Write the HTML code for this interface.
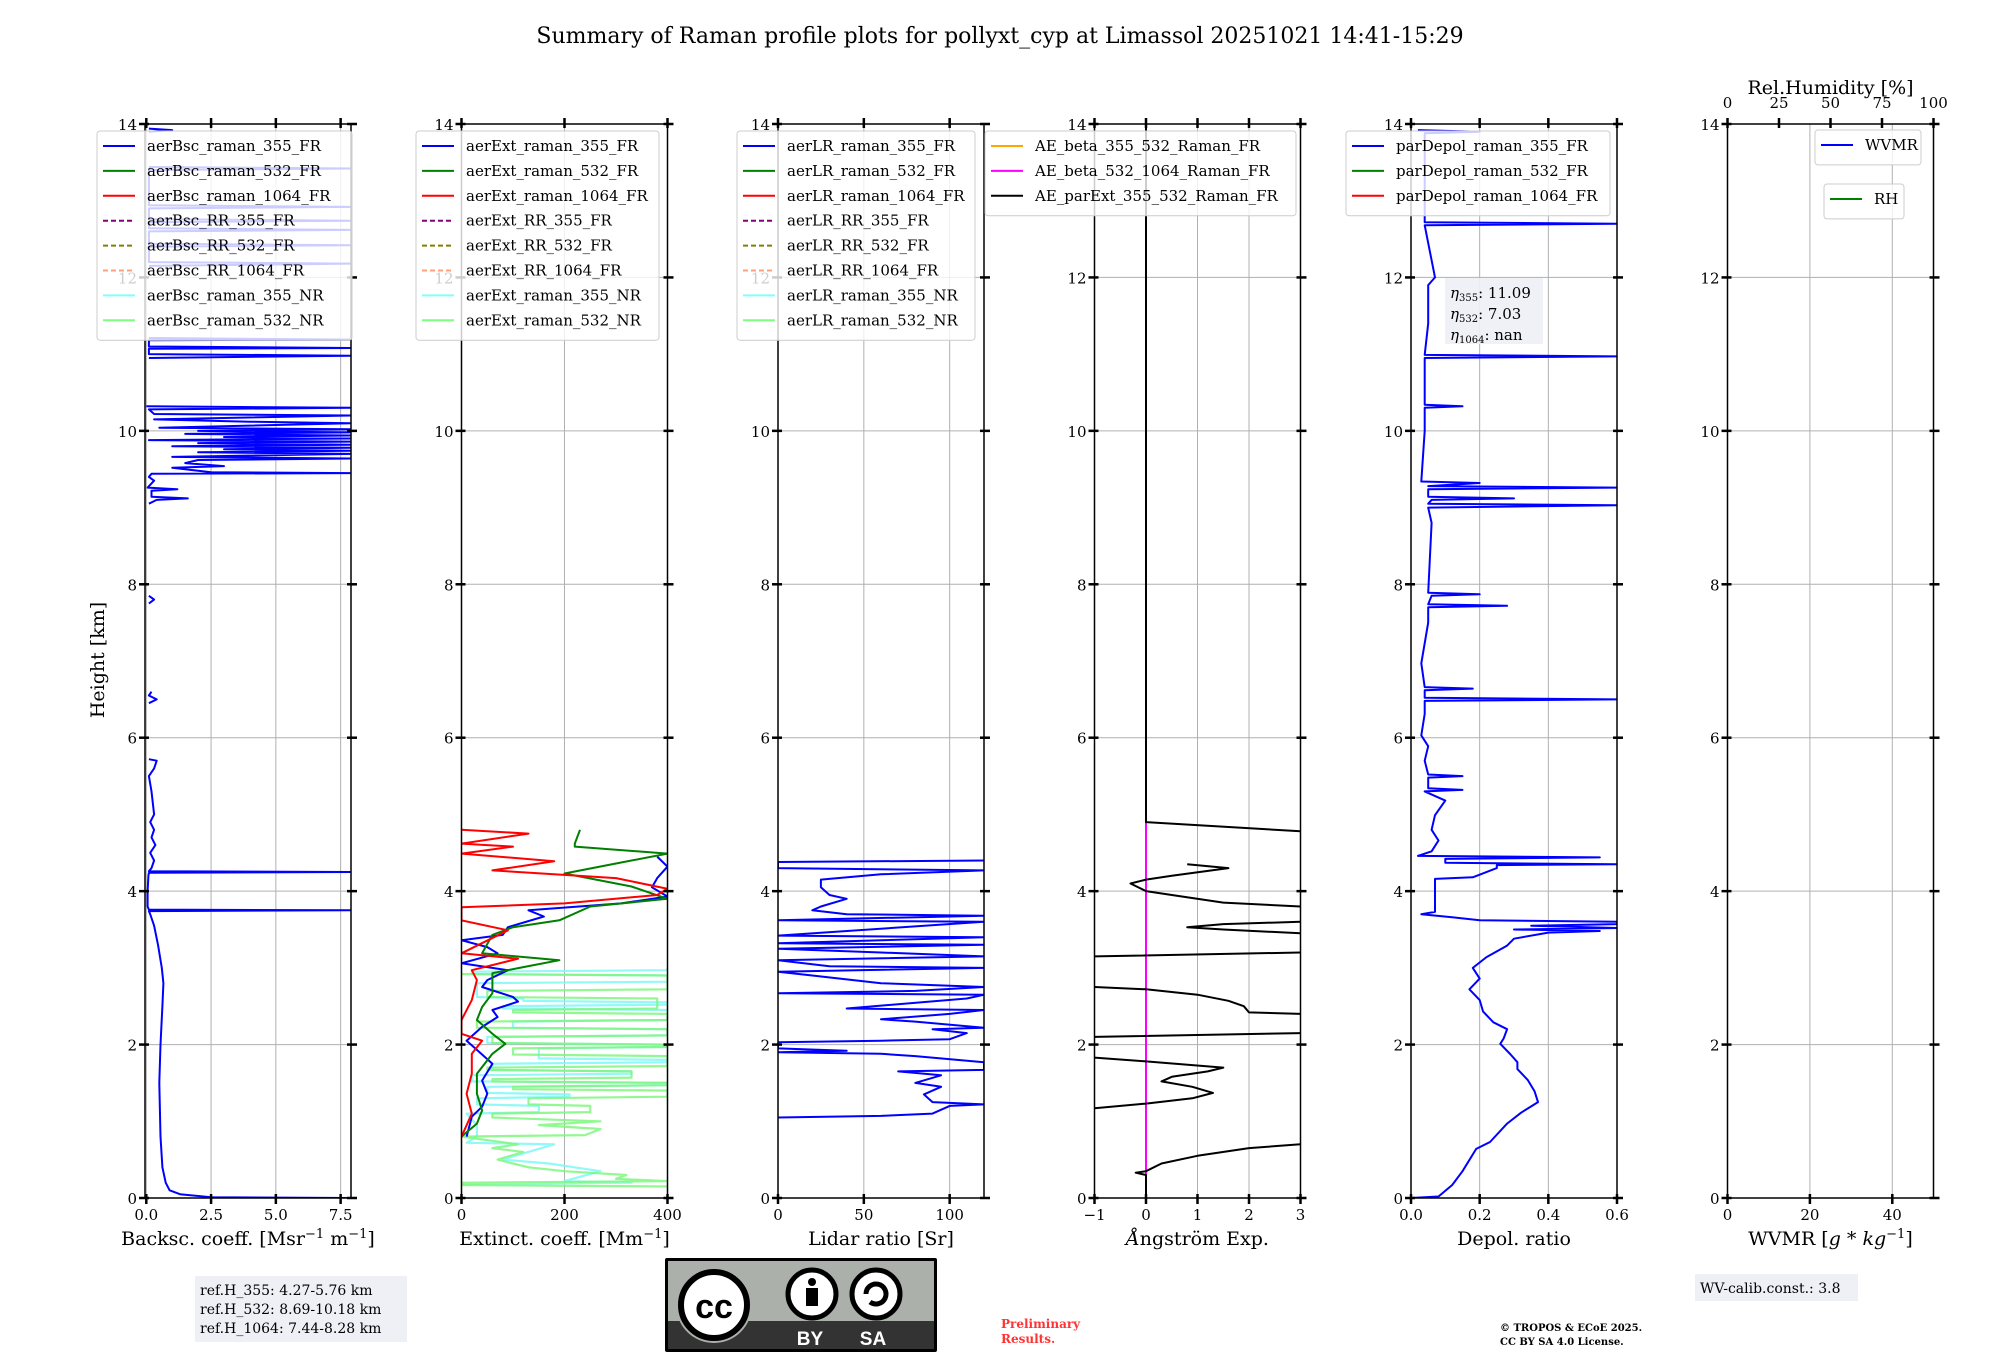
<!DOCTYPE html>
<html><head><meta charset="utf-8"><title>Raman profile summary</title>
<style>
html,body{margin:0;padding:0;background:#fff;}
svg{display:block;font-family:"DejaVu Serif","Liberation Serif",serif;}
</style></head>
<body>
<svg id="fig" width="2000" height="1360" viewBox="0 0 2000 1360" xmlns="http://www.w3.org/2000/svg">
<text x="1000" y="43" text-anchor="middle" font-size="22">Summary of Raman profile plots for pollyxt_cyp at Limassol 20251021 14:41-15:29</text>
<text transform="translate(104,660) rotate(-90)" text-anchor="middle" font-size="19">Height [km]</text>
<g id="panels"></g>
<g>
<rect x="195" y="1276" width="212" height="66" fill="#eef0f5"/>
<text x="200" y="1295" font-size="14">ref.H_355: 4.27-5.76 km</text>
<text x="200" y="1314" font-size="14">ref.H_532: 8.69-10.18 km</text>
<text x="200" y="1333" font-size="14">ref.H_1064: 7.44-8.28 km</text>
</g>
<g>
<rect x="1695" y="1274" width="163" height="27" fill="#eef0f5"/>
<text x="1700" y="1293" font-size="14">WV-calib.const.: 3.8</text>
</g>
<g>
<rect x="665" y="1258" width="272" height="94" fill="#000" rx="2"/>
<rect x="668" y="1261" width="266" height="60" fill="#abb1aa"/>
<rect x="668" y="1321" width="266" height="28" fill="#333"/>
<circle cx="714" cy="1305" r="38" fill="#abb1aa"/>
<circle cx="714" cy="1305" r="33" fill="#fff" stroke="#000" stroke-width="6"/>
<text x="714" y="1318" font-family="Liberation Sans,sans-serif" font-weight="bold" font-size="34" text-anchor="middle">cc</text>
<circle cx="812" cy="1294" r="24" fill="#fff" stroke="#000" stroke-width="5"/>
<circle cx="812" cy="1282" r="4" fill="#000"/>
<rect x="806" y="1288" width="12" height="18" fill="#000"/>
<circle cx="876" cy="1294" r="24" fill="#fff" stroke="#000" stroke-width="5"/>
<path d="M866 1294 a10 10 0 1 1 4 8" fill="none" stroke="#000" stroke-width="5"/>
<text x="810" y="1345" font-family="Liberation Sans,sans-serif" font-weight="bold" font-size="19" fill="#fff" text-anchor="middle">BY</text>
<text x="873" y="1345" font-family="Liberation Sans,sans-serif" font-weight="bold" font-size="19" fill="#fff" text-anchor="middle">SA</text>
</g>
<text x="1001" y="1328" font-size="12" font-weight="bold" fill="#ff3333">Preliminary</text>
<text x="1001" y="1343" font-size="12" font-weight="bold" fill="#ff3333">Results.</text>
<text x="1500" y="1331" font-size="10" font-weight="bold">© TROPOS &amp; ECoE 2025.</text>
<text x="1500" y="1345" font-size="10" font-weight="bold">CC BY SA 4.0 License.</text>
</svg>
<script>
// ---------- data: [height km, value] ----------
const yTicks = [0,2,4,6,8,10,12,14];
const bscProfile = [[0,7.9],[0.01,2.5],[0.05,1.3],[0.1,0.9],[0.2,0.75],[0.4,0.62],[0.8,0.55],[1.5,0.5],[2.0,0.55],[2.5,0.62],[2.8,0.66],[3.0,0.6],[3.3,0.45],[3.55,0.3],[3.7,0.15],[3.74,0.1],[3.75,7.9],[3.76,0.1],[3.8,0.05],[4.0,0.05],[4.2,0.08],[4.24,0.1],[4.25,7.9],[4.26,0.1],[4.3,0.2],[4.4,0.3],[4.5,0.15],[4.6,0.35],[4.7,0.2],[4.8,0.3],[4.9,0.15],[5.0,0.3],[5.3,0.2],[5.5,0.1],[5.6,0.3],[5.7,0.4],[5.72,0.1],null,[6.45,0.1],[6.5,0.4],[6.55,0.1],[6.6,0.2],null,[7.75,0.1],[7.8,0.3],[7.85,0.1],null,
[9.05,0.1],[9.1,0.4],[9.12,1.6],[9.14,0.2],[9.22,0.2],[9.24,1.2],[9.26,0.05],[9.35,0.3],[9.4,0.1],[9.44,0.2],[9.45,7.9],[9.46,2.5],[9.52,1.0],[9.54,3.0],[9.58,1.5],[9.62,2.0],[9.64,7.9],[9.66,1.0],[9.7,7.9],[9.72,2.0],[9.74,7.9],[9.76,3.0],[9.78,7.9],[9.8,1.0],[9.82,7.9],[9.84,2.0],[9.86,7.9],[9.88,0.1],[9.9,7.9],[9.92,3.0],[9.94,7.9],[9.96,1.5],[9.98,7.9],[10.0,2.0],[10.02,7.9],[10.04,0.5],[10.1,7.9],[10.12,4.0],[10.15,0.3],[10.2,7.9],[10.22,0.3],[10.28,0.1],[10.3,7.9],[10.32,0.0],null,
[10.95,0.1],[10.98,7.9],[11.0,0.1],[11.07,0.1],[11.08,7.9],[11.1,0.1],[11.18,0.1],[11.19,7.9],[11.21,0.1],null,[12.15,0.1],[12.18,7.9],[12.2,0.1],[12.4,0.1],[12.42,7.9],[12.44,0.1],[12.6,0.1],[12.62,7.9],[12.64,0.1],[12.72,0.1],[12.74,7.9],[12.76,0.1],[12.9,0.1],[12.92,7.9],[12.94,0.1],[13.4,0.1],[13.42,7.9],[13.44,0.1],null,[13.9,0.1],[13.92,1.0],[13.94,0.1]];
const ext355Profile = [[0.8,10],[1.06,20],[1.19,40],[1.36,50],[1.53,40],[1.75,60],[1.93,30],[2.05,10],[2.23,40],[2.36,70],[2.45,60],[2.56,110],[2.62,100],[2.75,40],[2.84,50],[2.97,90],[3.06,0],[3.19,70],[3.27,50],[3.36,0],[3.43,80],[3.53,90],[3.67,160],[3.75,130],[3.84,310],[3.93,400],[4.05,370],[4.17,380],[4.32,400],[4.45,380]];
const ext532Profile = [[0.8,0],[0.97,30],[1.14,40],[1.36,30],[1.62,30],[1.88,60],[2.01,85],[2.14,60],[2.32,30],[2.49,40],[2.67,60],[2.84,60],[2.93,60],[3.01,120],[3.1,190],[3.19,40],[3.43,60],[3.53,100],[3.62,190],[3.8,250],[3.9,400],[4.06,330],[4.23,200],[4.36,300],[4.49,400],[4.58,220],[4.62,220],[4.8,230]];
const ext1064Profile = [[0.8,0],[1.1,20],[1.36,10],[1.62,20],[1.88,20],[2.05,40],[2.14,0],[2.32,0],[2.58,20],[2.84,30],[2.97,20],[3.12,110],[3.19,0],[3.49,90],[3.62,0],[3.79,0],[3.84,200],[3.95,380],[4.03,400],[4.17,300],[4.27,60],[4.39,180],[4.49,0],[4.58,100],[4.62,0],[4.75,130],[4.8,0]];
const extNR355Profile = [[0.18,0],[0.2,330],[0.22,200],[0.35,270],[0.45,170],[0.5,80],[0.7,180],[0.72,10],[0.8,30],[0.95,30],[1.1,10],[1.12,150],[1.2,150],[1.22,30],[1.3,30],[1.32,210],[1.35,210],[1.37,50],[1.45,50],[1.47,400],[1.5,400],[1.52,20],[1.6,20],[1.62,330],[1.65,330],[1.67,60],[1.75,60],[1.77,400],[1.8,400],[1.82,150],[1.95,150],[1.97,400],[2.0,400],[2.02,50],[2.1,50],[2.12,400],[2.2,400],[2.22,100],[2.3,100],[2.32,400],[2.45,400],[2.47,80],[2.5,80],[2.52,400],[2.55,400],[2.57,120],[2.6,120],[2.62,30],[2.8,30],[2.82,400],[2.9,400],[2.92,20],[2.95,20],[2.97,400],[3.0,400]];
const extNR532Profile = [[0.15,400],[0.17,0],[0.2,0],[0.22,400],[0.25,300],[0.3,320],[0.35,200],[0.4,130],[0.45,100],[0.5,70],[0.6,120],[0.65,60],[0.7,110],[0.8,0],[0.82,240],[0.9,270],[0.95,150],[1.0,270],[1.05,60],[1.1,60],[1.12,250],[1.2,250],[1.22,130],[1.3,130],[1.32,400],[1.4,400],[1.42,100],[1.45,100],[1.47,400],[1.5,400],[1.52,60],[1.55,60],[1.57,330],[1.65,330],[1.67,50],[1.7,50],[1.72,400],[1.85,400],[1.87,100],[1.95,100],[1.97,400],[2.0,400],[2.02,60],[2.1,60],[2.12,400],[2.2,400],[2.22,30],[2.3,30],[2.32,400],[2.4,400],[2.42,100],[2.45,100],[2.47,380],[2.6,380],[2.62,50],[2.7,50],[2.72,400],[2.9,400],[2.92,0]];
const lrProfile = [[1.05,0],[1.07,60],[1.1,90],[1.2,100],[1.22,120],[1.25,90],[1.35,85],[1.45,95],[1.5,80],[1.6,95],[1.65,70],[1.67,120],[1.77,120],[1.85,80],[1.88,60],[1.9,0],[1.92,40],[1.95,0],[2.03,0],[2.05,60],[2.07,100],[2.15,110],[2.2,90],[2.22,120],[2.3,80],[2.33,60],[2.4,100],[2.45,120],[2.47,40],[2.6,110],[2.65,120],[2.67,0],[2.7,80],[2.75,120],[2.8,60],[2.9,20],[2.95,0],[3.0,120],[3.02,30],[3.1,0],[3.15,120],[3.2,60],[3.25,0],[3.3,120],[3.32,0],[3.4,120],[3.42,0],[3.6,120],[3.62,0],[3.68,120],[3.7,40],[3.75,20],[3.8,25],[3.9,40],[3.95,30],[4.05,25],[4.15,25],[4.22,60],[4.27,120],[4.3,0],[4.38,0],[4.4,120]];
const aeParProfile = [[0,0],[0.3,0],[0.33,-0.2],[0.35,0],[0.45,0.3],[0.55,1],[0.65,2],[0.7,3],null,[1.17,-1],[1.23,0],[1.3,0.9],[1.37,1.3],[1.45,0.9],[1.52,0.3],[1.58,0.5],[1.65,1.2],[1.7,1.5],[1.78,0],[1.83,-1],null,[2.1,-1],[2.15,3],null,[2.4,3],[2.42,2],[2.5,1.9],[2.57,1.6],[2.65,1],[2.72,0],[2.75,-1],null,[3.15,-1],[3.2,3],null,[3.45,3],[3.5,1.5],[3.53,0.8],[3.57,1.5],[3.6,3],null,[3.8,3],[3.85,1.5],[3.95,0.5],[4.0,0],[4.1,-0.3],[4.15,0],[4.2,0.5],[4.3,1.6],[4.35,0.8],null,[4.78,3],[4.9,0],[14,0]];
const aeBetaProfile = [[0,0],[4.9,0]];
const dpProfile = [[0,0],[0.02,0.08],[0.17,0.12],[0.35,0.15],[0.64,0.19],[0.73,0.23],[0.97,0.28],[1.11,0.32],[1.25,0.37],[1.39,0.36],[1.54,0.34],[1.68,0.31],[1.77,0.31],[1.87,0.29],[2.01,0.26],[2.08,0.27],[2.2,0.28],[2.29,0.24],[2.43,0.21],[2.58,0.2],[2.72,0.17],[2.86,0.2],[3.0,0.18],[3.14,0.22],[3.29,0.28],[3.38,0.3],[3.46,0.4],[3.48,0.55],[3.5,0.3],[3.52,0.6],[3.55,0.35],[3.57,0.6],[3.6,0.6],[3.62,0.2],[3.66,0.12],[3.7,0.03],[3.73,0.07],[4.16,0.07],[4.18,0.18],[4.3,0.25],[4.34,0.25],[4.35,0.6],[4.37,0.1],[4.42,0.1],[4.44,0.55],[4.46,0.02],[4.52,0.06],[4.66,0.08],[4.8,0.06],[4.99,0.07],[5.18,0.1],[5.3,0.04],[5.32,0.15],[5.34,0.05],[5.48,0.05],[5.5,0.15],[5.52,0.05],[5.7,0.04],[5.89,0.05],[6.03,0.03],[6.31,0.04],[6.48,0.04],[6.5,0.6],[6.52,0.04],[6.62,0.04],[6.64,0.18],[6.66,0.04],[6.97,0.03],[7.5,0.05],[7.7,0.05],[7.72,0.28],[7.74,0.05],[7.85,0.06],[7.87,0.2],[7.89,0.05],[8.8,0.06],[9.0,0.05],[9.03,0.6],[9.05,0.05],[9.1,0.06],[9.12,0.3],[9.14,0.05],[9.24,0.05],[9.26,0.6],[9.28,0.05],[9.32,0.2],[9.34,0.03],[10.0,0.04],[10.3,0.04],[10.32,0.15],[10.34,0.04],[10.95,0.04],[10.97,0.6],[10.99,0.04],[11.4,0.05],[11.9,0.05],[12.0,0.07],[12.68,0.04],[12.7,0.6],[12.72,0.04],[13.88,0.04],[13.9,0.2],[13.92,0.02]];

const panels = [
 {name:'backscatter', xmin:-0.05, xmax:7.9, ticks:[0,2.5,5,7.5], tl:['0.0','2.5','5.0','7.5'], label:'Backsc. coeff. [Msr<tspan baseline-shift="super" font-size="13">−1</tspan> m<tspan baseline-shift="super" font-size="13">−1</tspan>]'},
 {name:'extinction', xmin:0, xmax:400, ticks:[0,200,400], tl:['0','200','400'], label:'Extinct. coeff. [Mm<tspan baseline-shift="super" font-size="13">−1</tspan>]'},
 {name:'lidar-ratio', xmin:0, xmax:120, ticks:[0,50,100], tl:['0','50','100'], label:'Lidar ratio [Sr]'},
 {name:'angstrom', xmin:-1, xmax:3, ticks:[-1,0,1,2,3], tl:['−1','0','1','2','3'], label:'<tspan font-style="italic">Å</tspan>ngström Exp.'},
 {name:'depol', xmin:0, xmax:0.6, ticks:[0,0.2,0.4,0.6], tl:['0.0','0.2','0.4','0.6'], label:'Depol. ratio'},
 {name:'wvmr', xmin:0, xmax:50, ticks:[0,20,40], tl:['0','20','40'], label:'WVMR [<tspan font-style="italic">g</tspan> * <tspan font-style="italic">kg</tspan><tspan baseline-shift="super" font-size="13">−1</tspan>]'}
];
const rhTicks = [0,25,50,75,100];

const TOP=124, BOT=1198, PW=206;
function left(i){return 145 + i*316.5;}
function yS(h){return BOT - h/14*(BOT-TOP);}
function xS(i,v){const p=panels[i];return left(i)+(v-p.xmin)/(p.xmax-p.xmin)*PW;}

const NS='http://www.w3.org/2000/svg';
const root=document.getElementById('panels');
function el(tag,attrs,parent){const e=document.createElementNS(NS,tag);for(const k in attrs)e.setAttribute(k,attrs[k]);(parent||root).appendChild(e);return e;}

function pathFrom(i,P){
  let d='',pen=false;
  P.forEach(pt=>{
    if(pt===null){pen=false;return;}
    d+=(pen?'L':'M')+xS(i,pt[1]).toFixed(1)+' '+yS(pt[0]).toFixed(1);
    pen=true;
  });
  return d;
}

panels.forEach((p,i)=>{
  const L=left(i), R=L+PW;
  const g=el('g',{});
  
  
  const cp=el('clipPath',{id:'clip'+i},g);
  el('rect',{x:L,y:TOP,width:PW,height:BOT-TOP},cp);
  yTicks.forEach(t=>{
    const gl=el('line',{x1:L,x2:R,y1:yS(t),y2:yS(t),stroke:'#b0b0b0','stroke-width':1},g);
    
    
  });
  p.ticks.forEach(t=>{
    const gl=el('line',{x1:xS(i,t),x2:xS(i,t),y1:TOP,y2:BOT,stroke:'#b0b0b0','stroke-width':1},g);
    
    
  });
  const dg=el('g',{'clip-path':'url(#clip'+i+')'},g);
  function series(P,color,w,name,op){
    const pth=el('path',{d:pathFrom(i,P),fill:'none',stroke:color,'stroke-width':w,'stroke-linejoin':'round',opacity:op||1},dg);
    
    
  }
  if(i===0){ series(bscProfile,'#0000ff',2,'aerbsc-355-fr-line'); }
  if(i===1){
    series(extNR355Profile,'#7ff7f7',2.2,'aerext-355-nr-line',0.85);
    series(extNR532Profile,'#7ff77f',2.2,'aerext-532-nr-line',0.85);
    series(ext355Profile,'#0000ff',2,'aerext-355-fr-line');
    series(ext532Profile,'#007f00',2,'aerext-532-fr-line');
    series(ext1064Profile,'#ff0000',2,'aerext-1064-fr-line');
  }
  if(i===2){ series(lrProfile,'#0000ff',2,'aerlr-355-fr-line'); }
  if(i===3){
    series(aeBetaProfile,'#ff00ff',2,'ae-beta-532-1064-line');
    series(aeParProfile,'#000000',2,'ae-parext-355-532-line');
  }
  if(i===4){ series(dpProfile,'#0000ff',2,'pardepol-355-fr-line'); }
  const fr=el('rect',{x:L,y:TOP,width:PW,height:BOT-TOP,fill:'none',stroke:'#000','stroke-width':1.5},g);
  
  
  yTicks.forEach(t=>{
    const y=yS(t);
    el('line',{x1:L-6,x2:L+4,y1:y,y2:y,stroke:'#000','stroke-width':2.5},g);
    el('line',{x1:R-4,x2:R+6,y1:y,y2:y,stroke:'#000','stroke-width':2.5},g);
    const tx=el('text',{x:L-8,y:y+6,'text-anchor':'end','font-size':15},g);
    tx.textContent=String(t);
    
    
  });
  p.ticks.forEach((t,k)=>{
    const x=xS(i,t);
    el('line',{x1:x,x2:x,y1:BOT-4,y2:BOT+6,stroke:'#000','stroke-width':2.5},g);
    if(i!==5) el('line',{x1:x,x2:x,y1:TOP-6,y2:TOP+4,stroke:'#000','stroke-width':2.5},g);
    const tx=el('text',{x:x,y:BOT+22,'text-anchor':'middle','font-size':15},g);
    tx.textContent=p.tl[k];
    
    
  });
  const xl=el('text',{x:L+PW/2,y:BOT+47,'text-anchor':'middle','font-size':19},g);
  xl.innerHTML=p.label;
  
  
  if(i===5){
    rhTicks.forEach(t=>{
      const x=L+t/100*PW;
      el('line',{x1:x,x2:x,y1:TOP-6,y2:TOP+4,stroke:'#000','stroke-width':2.5},g);
      const tx=el('text',{x:x,y:TOP-16,'text-anchor':'middle','font-size':15},g);
      tx.textContent=String(t);
      
      
    });
    const rl=el('text',{x:L+PW/2,y:TOP-30,'text-anchor':'middle','font-size':19},g);
    rl.textContent='Rel.Humidity [%]';
    
    
  }
});

function legend(x,y,w,items,name,fs){
  const g=el('g',{});
  
  
  const h=items.length*24.9+10;
  el('rect',{x:x,y:y,width:w,height:h,rx:3,fill:'#fff','fill-opacity':0.8,stroke:'#cccccc','stroke-width':1},g);
  items.forEach((it,k)=>{
    const cy=y+15+k*24.9;
    const ln=el('line',{x1:x+6,x2:x+38,y1:cy,y2:cy,stroke:it[1],'stroke-width':2,'stroke-dasharray':it[2]?'5,3':'none'},g);
    
    
    const t=el('text',{x:x+50,y:cy+5,'font-size':fs||15},g);
    t.textContent=it[0];
    
    
  });
}
const sfx=['raman_355_FR','raman_532_FR','raman_1064_FR','RR_355_FR','RR_532_FR','RR_1064_FR','raman_355_NR','raman_532_NR'];
const col=[['#0000ff',0],['#007f00',0],['#ff0000',0],['#800080',1],['#808000',1],['#ffa07a',1],['#7fffff',0],['#7fff7f',0]];
function items(pref){return sfx.map((s,k)=>[pref+s,col[k][0],col[k][1]]);}
legend(97,131,255,items('aerBsc_'),'backscatter-legend');
legend(416,131,243,items('aerExt_'),'extinction-legend');
legend(737,131,238,items('aerLR_'),'lidar-ratio-legend');
legend(985,131,311,[['AE_beta_355_532_Raman_FR','#ffa500'],['AE_beta_532_1064_Raman_FR','#ff00ff'],['AE_parExt_355_532_Raman_FR','#000000']],'angstrom-legend');
legend(1346,131,264,[['parDepol_raman_355_FR','#0000ff'],['parDepol_raman_532_FR','#007f00'],['parDepol_raman_1064_FR','#ff0000']],'depol-legend');
legend(1815,130,106,[['WVMR','#0000ff']],'wvmr-legend');
legend(1824,184,80,[['RH','#007f00']],'rh-legend');

const eg=el('g',{});


el('rect',{x:1445,y:278,width:98,height:66,fill:'#eef0f5','fill-opacity':0.9},eg);
[['355','11.09'],['532','7.03'],['1064','nan']].forEach((e,k)=>{
  const t=el('text',{x:1450,y:298+k*21,'font-size':15},eg);
  t.innerHTML='<tspan font-style="italic">η</tspan><tspan font-size="10" dy="3">'+e[0]+'</tspan><tspan dy="-3">: '+e[1]+'</tspan>';
});
</script>
</body></html>
